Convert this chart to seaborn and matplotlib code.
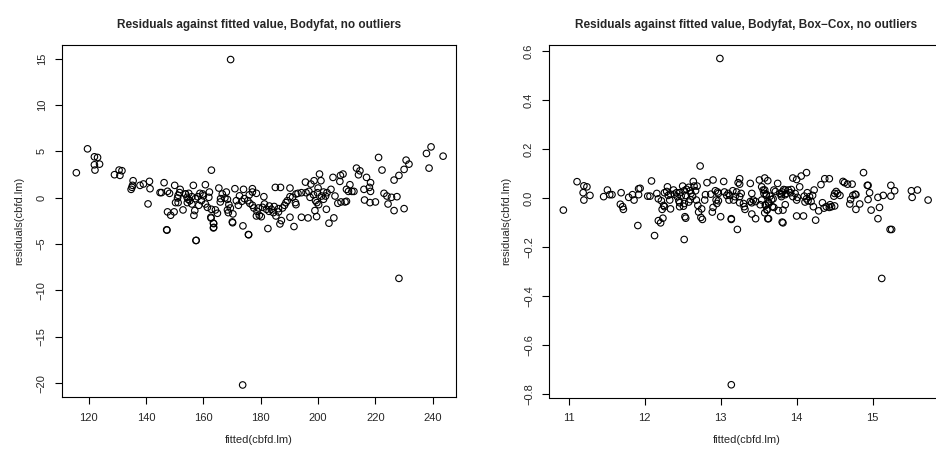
import numpy as np
import matplotlib
matplotlib.use("Agg")
import matplotlib.pyplot as plt
import seaborn as sns

# --- data (fitted value, residual) ---
# left panel: plain linear model
fit_raw = [
    115.7, 119.6, 122.0, 123.1, 122.0, 123.8, 122.2, 129.0, 130.6, 131.6, 130.9,
    135.5, 135.3, 134.8, 135.1, 137.9, 139.1, 141.2, 141.4, 140.7, 146.3, 144.9,
    145.4, 147.5, 148.2, 150.0, 151.9, 151.7, 151.2, 151.0, 150.3, 151.2, 147.5,
    148.6, 149.8, 152.9, 147.2, 153.8, 154.3, 154.7,
    153.7, 154.9, 156.0, 155.3, 154.4, 156.0, 157.2, 158.8, 159.8, 159.3, 158.4,
    157.0, 156.7, 160.7, 161.9, 162.1, 161.4, 162.6, 163.5, 163.5, 157.4, 162.8,
    164.2, 164.9, 165.9, 166.6, 167.5, 168.4, 168.9, 169.4, 168.4, 168.7, 170.3,
    170.1, 173.8, 175.7, 182.5, 171.5, 172.2, 173.4, 174.3, 175.5, 176.2, 177.1,
    177.6, 178.7, 178.5, 179.2, 180.6, 181.3, 182.0, 182.9, 183.7, 184.4, 185.3,
    186.2, 187.2, 186.7, 186.2, 187.6, 188.3, 188.8, 190.2, 189.3, 191.1, 192.3,
    193.0, 194.2, 192.1, 192.3, 190.2, 191.6, 194.2, 196.5, 197.2, 198.4, 199.1,
    198.9, 195.8, 196.8,
    156.5, 160.7, 165.4, 171.0, 168.0, 177.1, 177.1, 178.5, 181.1, 185.1, 186.9,
    190.2, 195.6, 197.5, 198.6, 162.8,
    239.4, 237.8, 243.6, 230.7, 231.7, 230.0, 238.7, 228.2, 226.5, 221.1, 222.3,
    213.4, 214.6, 214.1, 216.9, 218.3, 217.9, 216.0, 218.3, 211.1, 209.9, 210.6,
    211.8, 212.5, 207.8, 208.7, 207.6, 205.2, 200.5, 201.0, 200.0, 199.8, 203.1,
    205.9, 202.6, 201.9, 199.6, 200.2, 206.9, 208.0, 209.4, 209.9, 216.2, 218.1,
    220.0, 223.0, 224.0, 225.6, 227.5, 224.4, 226.5, 230.0, 202.9, 205.5, 203.8,
    199.5, 204.5, 201.9, 201.2,
    169.5, 173.7, 228.2, 175.8, 170.2, 163.6, 163.6, 162.7, 147.3, 157.5,
    179.5, 180.2, 183.0, 184.7, 172.6, 174.0, 166.0, 160.0, 158.0, 176.0,
]
res_raw = [
    2.69, 5.27, 4.41, 4.34, 3.55, 3.62, 2.98, 2.48, 2.98, 2.91, 2.41,
    1.83, 1.33, 0.90, 1.12, 1.33, 1.48, 1.76, 0.97, -0.67, 1.62, 0.55,
    0.55, 0.69, 0.47, 1.33, 0.90, 0.55, 0.26, -0.03, -0.53, -0.53, -1.53,
    -1.89, -1.53, -1.32, -3.46, 0.40, 0.04, -0.17,
    0.40, 0.47, 0.11, -0.32, -0.53, -0.68, -0.10, 0.47, 0.40, -0.32, -0.82,
    -1.39, -1.90, -0.68, 0.04, 0.61, -1.04, -2.11, -2.75, -3.26, -4.62, -1.25,
    -1.32, -1.68, -0.46, 0.40, -0.03, -0.18, -0.75, -1.11, -1.32, -1.61, -1.75,
    -2.61, -3.04, -3.97, -3.33, -0.32, -0.82, -0.39, -0.10, -0.32, -0.61, -0.82,
    -1.11, -1.47, -1.97, -1.11, -1.04, -0.68, -1.25, -1.47, -1.25, -1.61, -1.97,
    -1.18, -2.47, -2.83, -1.54, -1.11, -0.82, -0.53, 0.11, -0.32, 0.04, 0.40,
    0.47, 0.54, -0.53, -0.75, -2.11, -3.11, -2.11, -2.18, 0.04, 0.32, -0.32,
    -1.39, 0.54, 0.68,
    1.33, 1.40, 1.04, 0.97, 0.61, 0.97, 0.61, 0.47, 0.11, 1.11, 1.11,
    1.04, 1.68, 1.47, 1.83, 2.97,
    5.48, 4.77, 4.48, 4.05, 3.62, 3.05, 3.19, 2.40, 1.90, 4.34, 2.98,
    3.19, 2.90, 2.47, 2.19, 1.62, 1.11, 0.90, 0.68, 1.40, 0.90, 0.68,
    0.68, 0.68, 2.40, 2.55, 1.76, 2.19, 2.55, 1.83, 1.04, 0.54, 0.54,
    0.18, 0.18, -0.17, -0.53, -0.75, -0.60, -0.46, -0.46, -0.39, -0.25, -0.53,
    -0.46, 0.47, 0.18, 0.04, 0.11, -0.68, -1.39, -1.18, -1.25, -2.18, -2.75,
    -2.04, 0.90, 0.61, 0.18,
    14.9, -20.2, -8.7, -4.0, -2.7, -2.8, -3.2, -2.2, -3.5, -4.6,
    -1.9, -2.05, -0.9, -0.95, 0.2, 0.9, -0.1, 0.2, 0.1, 0.3,
]

# right panel: Box-Cox transformed response
fit_bc = [
    10.93, 11.11, 11.20, 11.24, 11.19, 11.28, 11.20, 11.46, 11.51, 11.54, 11.57,
    11.69, 11.68, 11.71, 11.72, 11.79, 11.84, 11.86, 11.92, 11.92, 11.91,
    12.73, 12.09, 11.94, 12.04, 12.07, 12.16, 12.18, 12.22, 12.25, 12.23, 12.26,
    12.30, 12.29, 12.26, 12.31, 12.34, 12.33, 12.34, 12.38, 12.39, 12.42, 12.43,
    12.45, 12.46, 12.50, 12.48, 12.52, 12.54, 12.55, 12.58, 12.60, 12.61, 12.64,
    12.65, 12.69, 12.67, 12.63, 12.60, 12.58, 12.52, 12.46, 12.46, 12.51, 12.53,
    12.54, 12.68, 12.70, 12.71, 12.74, 12.76, 12.75, 12.79, 12.80, 12.82, 12.87,
    12.89, 12.90, 12.93, 12.96, 12.97, 12.94, 12.95, 12.97, 12.90, 13.00, 13.04,
    13.05, 13.08, 13.10, 13.12, 13.16, 13.11, 13.17, 13.14, 13.22, 13.25, 13.23,
    13.25, 13.21, 13.19, 13.25, 13.27, 13.25, 13.30, 13.31, 13.32, 13.39, 13.41,
    13.39, 13.43, 13.41, 13.46, 13.41, 13.46, 13.51, 13.54, 13.56, 13.57, 13.60,
    13.54, 13.52, 13.59, 13.63, 13.61, 13.62, 12.13, 12.52, 12.18, 12.21, 12.24,
    14.13, 14.06, 14.00, 13.95, 13.75, 13.62, 13.58, 14.04, 13.93, 13.89, 13.85,
    13.83, 13.81, 13.78, 13.72, 13.70, 13.85, 13.86, 13.92, 13.98, 14.01, 14.00,
    13.95, 13.80, 13.80, 13.58, 13.60, 13.65, 13.67, 13.69, 13.63, 13.59, 13.68,
    13.61, 13.58, 13.63, 13.70, 13.76, 13.82, 13.85, 13.81, 14.00, 14.09, 14.25,
    14.10, 14.13, 14.15, 14.19, 14.17, 14.21, 14.23, 14.14, 14.11, 14.22, 14.29,
    14.32, 14.37, 14.43, 14.34, 14.39, 14.44, 14.46, 14.50, 14.43, 14.36, 14.49,
    14.52, 14.54, 14.50, 14.57, 14.61, 14.63, 14.67, 14.73, 14.74, 14.78, 14.77,
    14.71, 14.70, 14.83, 14.78, 14.88, 14.93, 14.96, 14.94, 14.98, 15.07, 15.14,
    15.24, 15.29, 15.24, 15.09, 15.07, 15.23, 15.51, 15.52, 15.59, 15.73,
    12.99, 13.14, 15.12, 15.25, 14.94, 13.82, 13.14,
]
res_bc = [
    -0.048, 0.068, 0.051, 0.047, 0.023, 0.012, -0.007, 0.007, 0.034, 0.015, 0.015,
    0.023, -0.024, -0.034, -0.045, 0.004, 0.015, -0.007, 0.039, 0.015, -0.111,
    0.132, 0.071, 0.041, 0.009, 0.009, 0.020, -0.002, -0.010, -0.029, -0.045, -0.034,
    0.047, 0.028, 0.023, 0.012, 0.017, -0.007, -0.043, 0.034, 0.017, 0.023, 0.007,
    -0.010, 0.023, 0.050, 0.009, 0.031, 0.012, 0.037, 0.045, 0.031, 0.020, 0.069,
    0.050, 0.050, 0.031, 0.009, -0.005, -0.015, -0.021, -0.018, -0.034, -0.032, -0.075,
    -0.081, -0.007, -0.029, -0.056, -0.078, -0.086, -0.043, -0.007, 0.015, 0.064, 0.017,
    -0.056, 0.075, 0.031, 0.026, 0.020, -0.007, -0.021, -0.010, -0.037, -0.075, 0.069,
    0.026, 0.012, 0.020, 0.012, 0.031, -0.007, -0.007, -0.083, -0.127, 0.080, 0.064,
    0.058, 0.026, 0.007, 0.007, 0.020, -0.018, -0.021, -0.034, -0.045, 0.061, 0.020,
    -0.013, -0.007, -0.018, -0.013, -0.064, -0.083, 0.075, 0.047, 0.034, 0.020, 0.017,
    -0.007, -0.026, -0.026, -0.015, -0.048, -0.083, -0.152, -0.168, -0.091, -0.100, -0.081,
    0.105, 0.091, 0.077, 0.083, 0.061, 0.072, 0.083, 0.047, 0.036, 0.034, 0.034,
    0.036, 0.026, 0.020, 0.028, 0.034, 0.015, 0.020, 0.023, 0.020, 0.004, -0.007,
    0.007, 0.015, 0.007, 0.034, 0.012, 0.009, -0.005, -0.002, -0.020, -0.029, -0.034,
    -0.045, -0.059, -0.083, -0.037, -0.050, -0.048, -0.026, -0.097, -0.072, -0.072, -0.089,
    0.009, -0.002, -0.010, -0.013, 0.007, 0.012, 0.034, 0.023, -0.015, -0.034, -0.051,
    0.056, 0.080, 0.080, -0.018, -0.034, -0.026, -0.034, -0.031, -0.037, -0.040, 0.009,
    0.028, 0.020, 0.020, 0.012, 0.069, 0.064, 0.058, 0.058, 0.012, 0.015, 0.017,
    -0.005, -0.023, -0.023, -0.045, 0.105, 0.053, 0.023, -0.005, -0.048, 0.004, 0.012,
    0.053, 0.031, 0.009, -0.037, -0.083, -0.127, 0.031, 0.004, 0.034, -0.007,
    0.571, -0.761, -0.327, -0.127, 0.053, -0.100, -0.086,
]

titles = ["Residuals against fitted value, Bodyfat, no outliers",
          "Residuals against fitted value, Bodyfat, Box\u2212Cox, no outliers"]
x_ticks = [[120, 140, 160, 180, 200, 220, 240], [11, 12, 13, 14, 15]]
y_ticks = [[-20, -15, -10, -5, 0, 5, 10, 15],
           [-0.8, -0.6, -0.4, -0.2, 0.0, 0.2, 0.4, 0.6]]

sns.set_theme(style="white")
plt.rcParams["font.family"] = ["Liberation Sans", "DejaVu Sans"]
plt.rcParams["axes.unicode_minus"] = True

fig = plt.figure(figsize=(9.37, 4.51), dpi=100)
ax1 = fig.add_axes([62 / 937, 1 - 397.3 / 451, 394 / 937, 352.3 / 451])
ax2 = fig.add_axes([549.3 / 937, 1 - 397.5 / 451, 394 / 937, 352.5 / 451])

panels = [(ax1, fit_raw, res_raw, (110.7, 248.1), (-21.53, 16.47)),
          (ax2, fit_bc, res_bc, (10.745, 15.93), (-0.813, 0.626))]

for i, (ax, xs, ys, xlim, ylim) in enumerate(panels):
    # open circles like R's pch=1
    sns.scatterplot(x=xs, y=ys, ax=ax, marker="o", s=22,
                    fc="none", ec="black", linewidth=0.8)
    ax.set_xlim(*xlim)
    ax.set_ylim(*ylim)
    ax.set_xticks(x_ticks[i])
    ax.set_yticks(y_ticks[i])
    if i == 1:
        ax.set_yticklabels(["\u22120.8", "\u22120.6", "\u22120.4", "\u22120.2",
                            "0.0", "0.2", "0.4", "0.6"])
    for sp in ax.spines.values():
        sp.set_color("black")
        sp.set_linewidth(0.8)
    ax.tick_params(axis="both", direction="out", length=5, width=0.8,
                   color="black", labelsize=8, pad=6, bottom=True, left=True)
    for lab in ax.get_yticklabels():
        lab.set_rotation(90)
        lab.set_va("center")
    ax.set_xlabel("fitted(cbfd.lm)", fontsize=8, labelpad=9)
    ax.set_ylabel("residuals(cbfd.lm)", fontsize=8, labelpad=9)
    ax.set_title(titles[i], fontsize=8.5, fontweight="bold", pad=12)
    ax.grid(False)

fig.savefig("out.png", dpi=100)
